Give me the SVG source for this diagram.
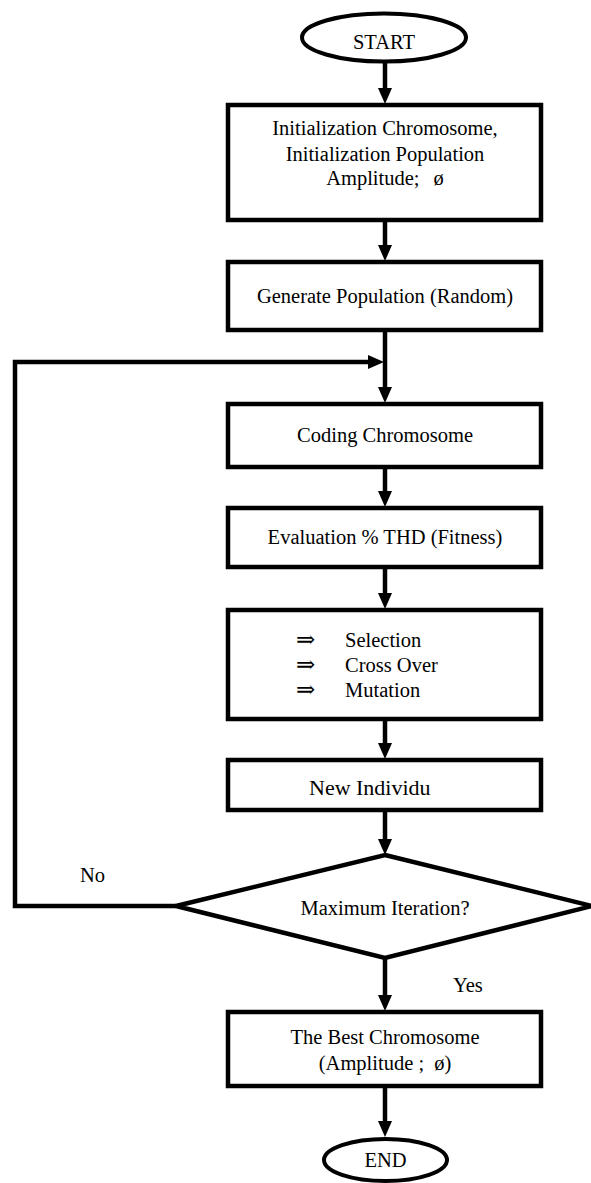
<svg xmlns="http://www.w3.org/2000/svg" width="591" height="1183" viewBox="0 0 591 1183">
<style>
.box{fill:#fff;stroke:#000;stroke-width:4.5}
.term{fill:#fff;stroke:#000;stroke-width:4}
text{font-family:'Liberation Serif','Times New Roman',Times,serif;font-size:20.5px;fill:#000}
.c{text-anchor:middle}
.conn{fill:none;stroke:#000;stroke-width:4.5;marker-end:url(#ah)}
.sym{font-family:'DejaVu Serif','DejaVu Sans',serif;font-size:23px}
</style>
<defs>
<marker id="ah" markerUnits="userSpaceOnUse" markerWidth="16" markerHeight="14" refX="0" refY="7" orient="auto" overflow="visible">
<path d="M0,0 L16,7 L0,14 z" fill="#000"/>
</marker>
</defs>
<g id="connectors">
<line class="conn" x1="385" y1="62" x2="385" y2="88"/>
<line class="conn" x1="385" y1="222" x2="385" y2="245"/>
<line class="conn" x1="385" y1="332" x2="385" y2="387"/>
<polyline class="conn" points="176,906 15,906 15,362 368,362"/>
<line class="conn" x1="385" y1="469" x2="385" y2="491"/>
<line class="conn" x1="385" y1="569" x2="385" y2="593"/>
<line class="conn" x1="385" y1="721" x2="385" y2="743"/>
<line class="conn" x1="385" y1="812" x2="385" y2="839"/>
<line class="conn" x1="385" y1="958" x2="385" y2="995"/>
<line class="conn" x1="385" y1="1088" x2="385" y2="1121"/>
</g>
<g id="start">
<ellipse class="term" cx="384" cy="37.5" rx="82" ry="24"/>
<text class="c" x="384" y="49">START</text>
</g>
<g id="init">
<rect class="box" x="228" y="105" width="313" height="115"/>
<text class="c" x="385" y="135">Initialization Chromosome,</text>
<text class="c" x="385" y="161">Initialization Population</text>
<text class="c" x="385" y="185">Amplitude;<tspan dx="14">ø</tspan></text>
</g>
<g id="generate">
<rect class="box" x="228" y="262" width="313" height="68"/>
<text class="c" x="385" y="303">Generate Population (Random)</text>
</g>
<g id="coding">
<rect class="box" x="228" y="404" width="313" height="63"/>
<text class="c" x="385" y="442">Coding Chromosome</text>
</g>
<g id="evaluation">
<rect class="box" x="228" y="508" width="313" height="59"/>
<text class="c" x="385" y="544">Evaluation % THD (Fitness)</text>
</g>
<g id="operators">
<rect class="box" x="228" y="610" width="313" height="109"/>
<text class="sym" x="296" y="647">⇒</text>
<text x="345" y="647">Selection</text>
<text class="sym" x="296" y="672">⇒</text>
<text x="345" y="672">Cross Over</text>
<text class="sym" x="296" y="697">⇒</text>
<text x="345" y="697">Mutation</text>
</g>
<g id="newindividu">
<rect class="box" x="228" y="760" width="313" height="50"/>
<text x="309" y="795" style="font-size:22px">New Individu</text>
</g>
<g id="decision">
<polygon class="box" points="385,855 592,906 385,958 176,906"/>
<text class="c" x="385" y="915">Maximum Iteration?</text>
</g>
<g id="labels">
<text x="80" y="882">No</text>
<text x="453" y="992">Yes</text>
</g>
<g id="best">
<rect class="box" x="228" y="1012" width="313" height="74"/>
<text class="c" x="385" y="1044">The Best Chromosome</text>
<text class="c" x="385" y="1070">(Amplitude ;<tspan dx="10">ø)</tspan></text>
</g>
<g id="end">
<ellipse class="term" cx="385.5" cy="1160" rx="61.5" ry="21"/>
<text class="c" x="385.5" y="1167">END</text>
</g>
</svg>
